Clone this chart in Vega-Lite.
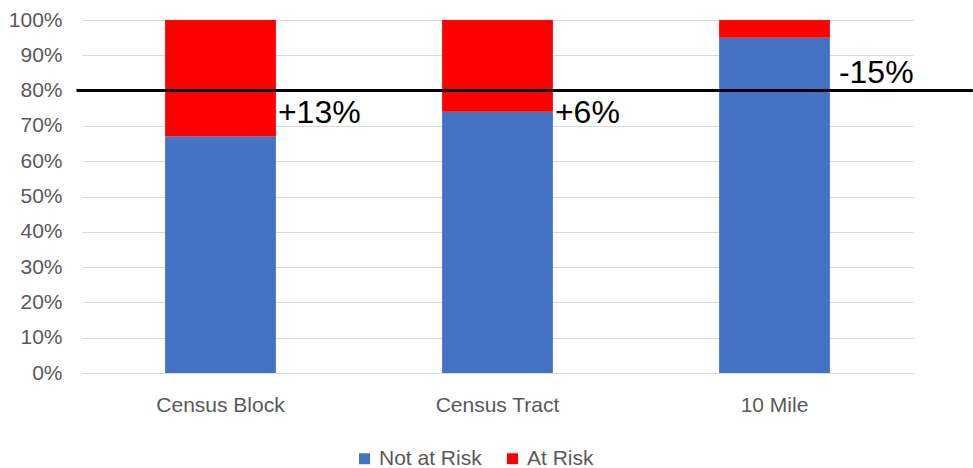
{
  "$schema": "https://vega.github.io/schema/vega-lite/v6.json",
  "width": 831,
  "height": 353,
  "autosize": {"type": "none"},
  "padding": {"left": 82, "top": 20, "right": 60, "bottom": 95},
  "background": "white",
  "config": {
    "font": "Liberation Sans",
    "view": {"stroke": null},
    "axis": {"domain": false, "ticks": false, "labelColor": "#595959", "labelFontSize": 21, "labelOverlap": false, "title": null},
    "axisY": {"labelPadding": 20, "grid": true, "gridColor": "#D9D9D9", "gridWidth": 1.2, "tickCount": 12},
    "axisX": {"labelAngle": 0, "labelPadding": 21, "grid": false}
  },
  "datasets": {
    "shares": [
      {"area": "Census Block", "risk": "Not at Risk", "share": 67},
      {"area": "Census Block", "risk": "At Risk", "share": 33},
      {"area": "Census Tract", "risk": "Not at Risk", "share": 74},
      {"area": "Census Tract", "risk": "At Risk", "share": 26},
      {"area": "10 Mile", "risk": "Not at Risk", "share": 95},
      {"area": "10 Mile", "risk": "At Risk", "share": 5}
    ],
    "threshold": [
      {"threshold": 80, "from": "Census Block", "to": "10 Mile"}
    ],
    "changes": [
      {"area": "Census Block", "threshold": 80, "change": "+13%"},
      {"area": "Census Tract", "threshold": 80, "change": "+6%"},
      {"area": "10 Mile", "threshold": 80, "change": "-15%"}
    ]
  },
  "layer": [
    {
      "data": {"name": "shares"},
      "mark": {"type": "bar"},
      "encoding": {
        "x": {
          "field": "area",
          "type": "nominal",
          "sort": ["Census Block", "Census Tract", "10 Mile"],
          "scale": {"domain": ["Census Block", "Census Tract", "10 Mile"], "paddingInner": 0.6, "paddingOuter": 0.3}
        },
        "y": {
          "field": "share",
          "type": "quantitative",
          "stack": "zero",
          "scale": {"domain": [0, 100], "nice": false},
          "axis": {"values": [0, 10, 20, 30, 40, 50, 60, 70, 80, 90, 100], "labelExpr": "datum.value + '%'"}
        },
        "color": {
          "field": "risk",
          "type": "nominal",
          "scale": {"domain": ["Not at Risk", "At Risk"], "range": ["#4472C4", "#FF0000"]},
          "legend": {
            "title": null,
            "orient": "none",
            "direction": "horizontal",
            "legendX": 272,
            "legendY": 428,
            "symbolType": "square",
            "symbolSize": 120,
            "symbolStrokeWidth": 0,
            "symbolOpacity": 1,
            "labelFontSize": 21,
            "labelColor": "#595959",
            "columnPadding": 20
          }
        },
        "order": {"field": "risk", "sort": "descending"}
      }
    },
    {
      "data": {"name": "threshold"},
      "mark": {"type": "rule", "color": "black", "strokeWidth": 3},
      "encoding": {
        "x": {"field": "from", "type": "nominal", "bandPosition": -0.8},
        "x2": {"field": "to", "bandPosition": 2.29},
        "y": {
          "field": "threshold",
          "type": "quantitative",
          "axis": {"values": [0, 10, 20, 30, 40, 50, 60, 70, 80, 90, 100], "labelExpr": "datum.value + '%'"}
        }
      }
    },
    {
      "data": {"name": "changes"},
      "transform": [{"filter": "indexof(datum.change, '+') == 0"}],
      "mark": {"type": "text", "align": "left", "baseline": "top", "dx": 2, "dy": 7, "fontSize": 32, "color": "black"},
      "encoding": {
        "x": {"field": "area", "type": "nominal", "bandPosition": 1},
        "y": {
          "field": "threshold",
          "type": "quantitative",
          "axis": {"values": [0, 10, 20, 30, 40, 50, 60, 70, 80, 90, 100], "labelExpr": "datum.value + '%'"}
        },
        "text": {"field": "change"}
      }
    },
    {
      "data": {"name": "changes"},
      "transform": [{"filter": "indexof(datum.change, '-') == 0"}],
      "mark": {"type": "text", "align": "left", "baseline": "alphabetic", "dx": 9, "dy": -8, "fontSize": 32, "color": "black"},
      "encoding": {
        "x": {"field": "area", "type": "nominal", "bandPosition": 1},
        "y": {
          "field": "threshold",
          "type": "quantitative",
          "axis": {"values": [0, 10, 20, 30, 40, 50, 60, 70, 80, 90, 100], "labelExpr": "datum.value + '%'"}
        },
        "text": {"field": "change"}
      }
    }
  ]
}
